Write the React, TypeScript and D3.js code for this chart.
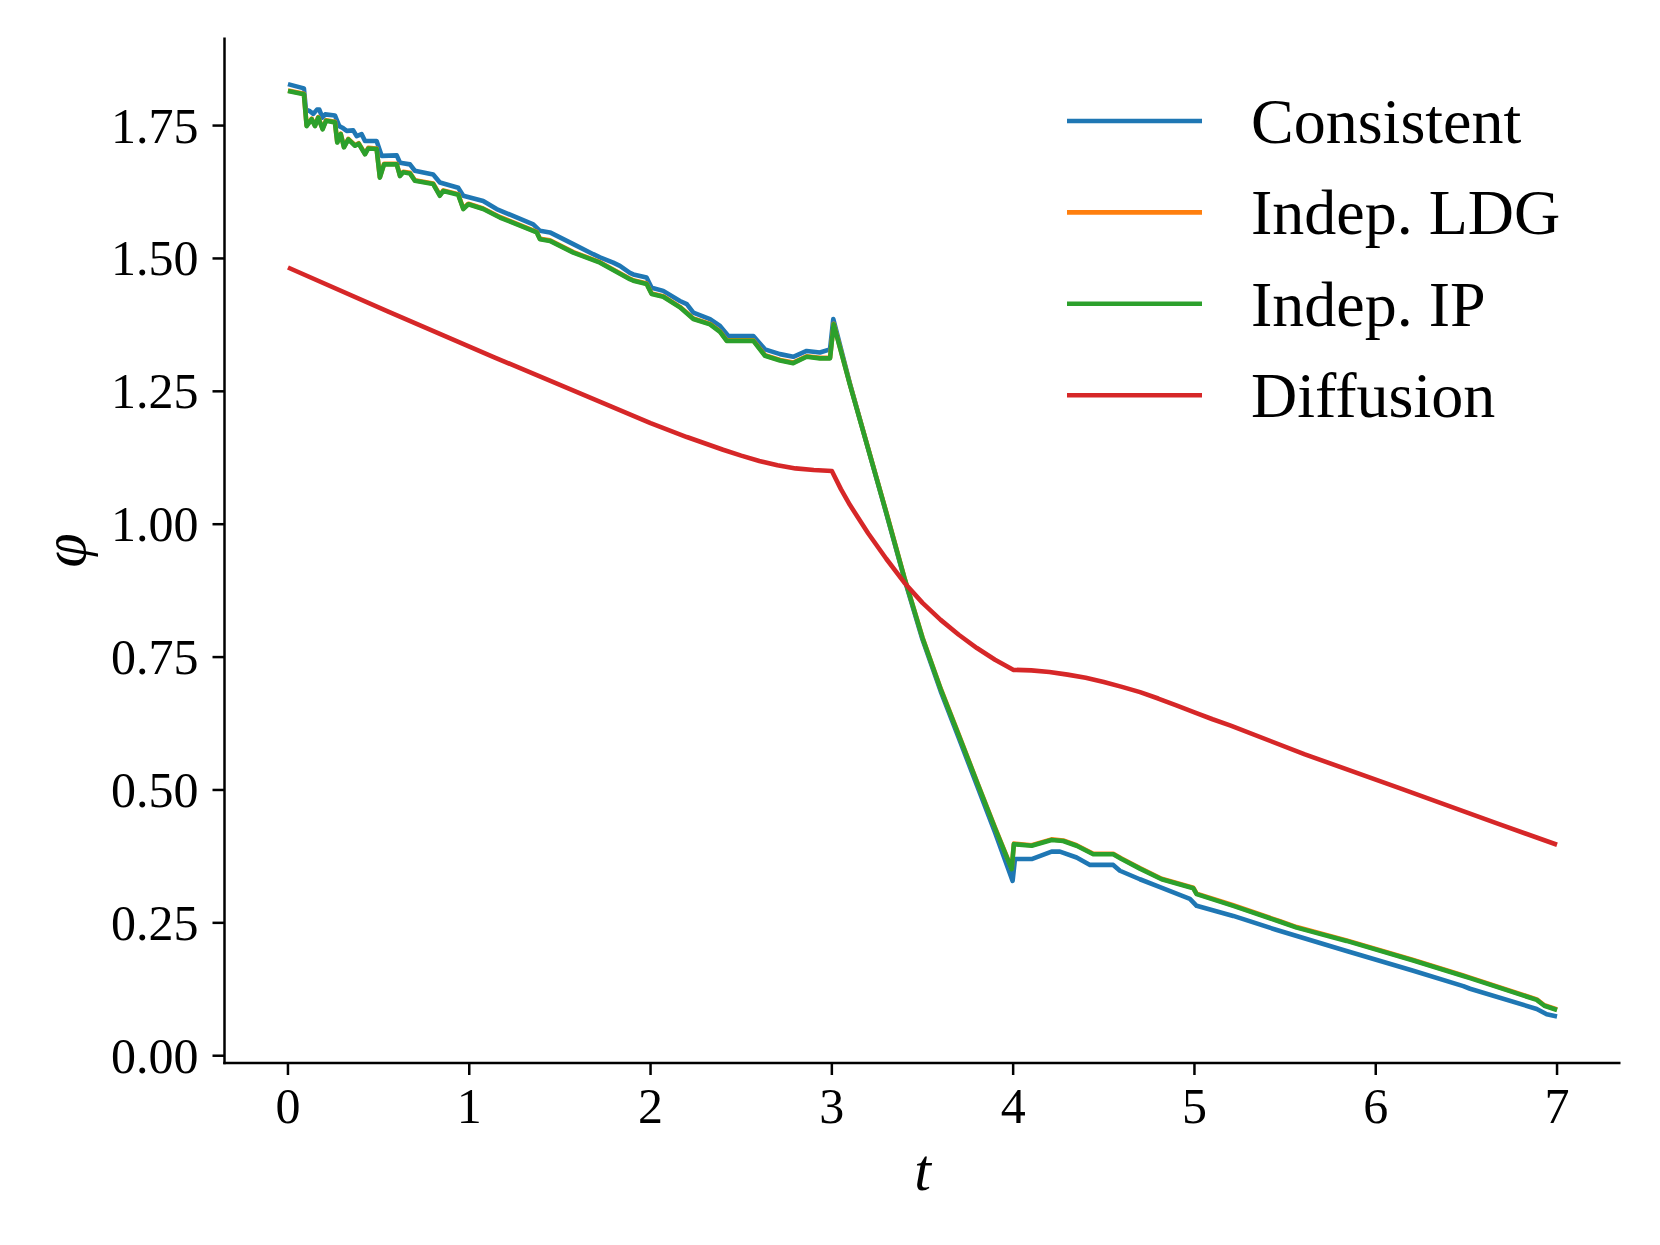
import React from "react";
import * as d3 from "d3";

// ---- data ----
const consistentT = [0, 0.088, 0.099, 0.121, 0.14, 0.16, 0.173, 0.19, 0.205, 0.259, 0.283, 0.3, 0.324, 0.36, 0.379, 0.406, 0.425, 0.489, 0.517, 0.6, 0.618, 0.673, 0.7, 0.801, 0.838, 0.939, 0.967, 1.077, 1.151, 1.353, 1.39, 1.445, 1.574, 1.684, 1.721, 1.794, 1.831, 1.886, 1.905, 1.978, 2.006, 2.07, 2.162, 2.2, 2.236, 2.328, 2.383, 2.429, 2.567, 2.631, 2.714, 2.787, 2.861, 2.934, 2.99, 3.008, 3.1, 3.2, 3.3, 3.4, 3.5, 3.6, 3.7, 3.8, 3.9, 3.997, 4.01, 4.102, 4.212, 4.258, 4.35, 4.424, 4.552, 4.589, 4.699, 4.81, 4.975, 5.012, 5.214, 5.45, 5.839, 6.207, 6.483, 6.52, 6.888, 6.943, 7.0];
const consistentPhi = [1.828, 1.82, 1.78, 1.777, 1.772, 1.78, 1.78, 1.765, 1.771, 1.769, 1.749, 1.746, 1.74, 1.741, 1.73, 1.734, 1.721, 1.721, 1.693, 1.694, 1.68, 1.677, 1.665, 1.658, 1.643, 1.633, 1.618, 1.608, 1.593, 1.564, 1.552, 1.549, 1.527, 1.508, 1.502, 1.492, 1.486, 1.473, 1.47, 1.464, 1.445, 1.439, 1.42, 1.414, 1.398, 1.386, 1.373, 1.354, 1.354, 1.329, 1.32, 1.315, 1.326, 1.323, 1.329, 1.386, 1.264, 1.142, 1.021, 0.897, 0.783, 0.686, 0.598, 0.509, 0.42, 0.329, 0.37, 0.37, 0.384, 0.384, 0.373, 0.359, 0.359, 0.348, 0.332, 0.317, 0.295, 0.282, 0.263, 0.237, 0.197, 0.16, 0.131, 0.126, 0.088, 0.078, 0.074];

const ipT = [0, 0.088, 0.103, 0.131, 0.149, 0.167, 0.191, 0.21, 0.259, 0.272, 0.291, 0.309, 0.333, 0.37, 0.39, 0.425, 0.443, 0.489, 0.507, 0.53, 0.6, 0.618, 0.636, 0.673, 0.7, 0.801, 0.838, 0.857, 0.939, 0.967, 0.995, 1.077, 1.169, 1.372, 1.39, 1.445, 1.574, 1.721, 1.886, 1.905, 1.978, 2.006, 2.07, 2.162, 2.236, 2.328, 2.383, 2.42, 2.567, 2.631, 2.714, 2.787, 2.861, 2.934, 2.99, 3.01, 3.1, 3.2, 3.3, 3.4, 3.5, 3.6, 3.7, 3.8, 3.9, 3.992, 4.004, 4.102, 4.212, 4.276, 4.35, 4.442, 4.552, 4.598, 4.699, 4.819, 4.994, 5.012, 5.214, 5.472, 5.564, 5.839, 6.207, 6.483, 6.52, 6.888, 6.93, 7.0];
const ipPhi = [1.815, 1.809, 1.749, 1.762, 1.749, 1.765, 1.743, 1.759, 1.756, 1.718, 1.734, 1.709, 1.724, 1.712, 1.716, 1.696, 1.707, 1.706, 1.652, 1.677, 1.677, 1.655, 1.662, 1.66, 1.646, 1.64, 1.618, 1.627, 1.62, 1.593, 1.602, 1.593, 1.577, 1.549, 1.536, 1.533, 1.511, 1.492, 1.461, 1.458, 1.452, 1.433, 1.428, 1.408, 1.386, 1.376, 1.362, 1.345, 1.345, 1.317, 1.308, 1.303, 1.315, 1.312, 1.312, 1.376, 1.262, 1.142, 1.022, 0.899, 0.786, 0.69, 0.603, 0.515, 0.428, 0.351, 0.398, 0.395, 0.406, 0.404, 0.395, 0.379, 0.379, 0.37, 0.352, 0.332, 0.315, 0.304, 0.282, 0.252, 0.241, 0.216, 0.179, 0.15, 0.146, 0.105, 0.094, 0.086];

// Indep. LDG lies under Indep. IP in the reference
const ldgT = [0, 0.088, 0.103, 0.131, 0.149, 0.167, 0.191, 0.21, 0.259, 0.272, 0.291, 0.309, 0.333, 0.37, 0.39, 0.425, 0.443, 0.489, 0.507, 0.53, 0.6, 0.618, 0.636, 0.673, 0.7, 0.801, 0.838, 0.857, 0.939, 0.967, 0.995, 1.077, 1.169, 1.372, 1.39, 1.445, 1.574, 1.721, 1.886, 1.905, 1.978, 2.006, 2.07, 2.162, 2.236, 2.328, 2.383, 2.42, 2.567, 2.631, 2.714, 2.787, 2.861, 2.934, 2.99, 3.01, 3.1, 3.2, 3.3, 3.4, 3.5, 3.6, 3.7, 3.8, 3.9, 3.992, 4.004, 4.102, 4.212, 4.276, 4.35, 4.442, 4.552, 4.598, 4.699, 4.819, 4.994, 5.012, 5.214, 5.472, 5.564, 5.839, 6.207, 6.483, 6.52, 6.888, 6.93, 7.0];
const ldgPhi = [1.816, 1.81, 1.75, 1.763, 1.75, 1.766, 1.744, 1.76, 1.757, 1.719, 1.735, 1.71, 1.725, 1.713, 1.717, 1.697, 1.708, 1.707, 1.653, 1.678, 1.678, 1.656, 1.663, 1.661, 1.647, 1.641, 1.619, 1.628, 1.621, 1.594, 1.603, 1.594, 1.578, 1.55, 1.537, 1.534, 1.512, 1.493, 1.462, 1.459, 1.453, 1.434, 1.429, 1.409, 1.387, 1.377, 1.363, 1.346, 1.346, 1.318, 1.309, 1.304, 1.316, 1.313, 1.313, 1.377, 1.263, 1.143, 1.023, 0.9, 0.787, 0.691, 0.604, 0.516, 0.429, 0.352, 0.399, 0.396, 0.407, 0.405, 0.396, 0.38, 0.38, 0.371, 0.353, 0.333, 0.316, 0.305, 0.283, 0.253, 0.242, 0.217, 0.18, 0.151, 0.147, 0.106, 0.095, 0.087];

const diffusionT = [0, 0.547, 1.138, 1.729, 2.0, 2.2, 2.4, 2.5, 2.6, 2.7, 2.8, 2.9, 3.0, 3.05, 3.1, 3.2, 3.3, 3.4, 3.5, 3.6, 3.7, 3.8, 3.9, 4.0, 4.1, 4.2, 4.3, 4.4, 4.5, 4.6, 4.7, 4.8, 4.9, 5.0, 5.1, 5.2, 5.609, 6.135, 6.661, 7.0];
const diffusionPhi = [1.483, 1.401, 1.314, 1.229, 1.19, 1.164, 1.14, 1.129, 1.119, 1.111, 1.105, 1.102, 1.1, 1.066, 1.036, 0.983, 0.935, 0.89, 0.852, 0.82, 0.792, 0.767, 0.745, 0.726, 0.725, 0.722, 0.717, 0.711, 0.703, 0.694, 0.684, 0.672, 0.659, 0.646, 0.633, 0.621, 0.567, 0.503, 0.438, 0.397];

const seriesNames = ["Consistent", "Indep. LDG", "Indep. IP", "Diffusion"];
const seriesColors = ["#1f77b4", "#ff7f0e", "#2ca02c", "#d62728"];
const xTicks = [0, 1, 2, 3, 4, 5, 6, 7];
const yTicks = [0, 0.25, 0.5, 0.75, 1.0, 1.25, 1.5, 1.75];

const W = 1660;
const H = 1245;
const FONT = "'Liberation Serif', 'Times New Roman', serif";

export default function App() {
  const x = d3.scaleLinear().domain([-0.35, 7.35]).range([224.5, 1620.5]);
  const y = d3.scaleLinear().domain([-0.0137, 1.9157]).range([1063, 37.5]);

  const series = [
    { t: consistentT, v: consistentPhi },
    { t: ldgT, v: ldgPhi },
    { t: ipT, v: ipPhi },
    { t: diffusionT, v: diffusionPhi },
  ];

  const line = d3
    .line<[number, number]>()
    .x((d) => x(d[0]))
    .y((d) => y(d[1]));

  const [x0, x1] = x.range();
  const [y0, y1] = y.range();

  return (
    <svg
      width={W}
      height={H}
      style={{ position: "absolute", left: 0, top: 0, background: "#fff" }}
      fontFamily={FONT}
    >
      <rect x={0} y={0} width={W} height={H} fill="#fff" />
      {series.map((s, i) => (
        <path
          key={seriesNames[i]}
          d={line(s.t.map((t, k) => [t, s.v[k]] as [number, number])) || ""}
          fill="none"
          stroke={seriesColors[i]}
          strokeWidth={4.6}
          strokeLinejoin="round"
          strokeLinecap="butt"
        />
      ))}

      {/* spines */}
      <line x1={x0} x2={x0} y1={y0 + 1.25} y2={y1} stroke="#000" strokeWidth={2.5} />
      <line x1={x0 - 1.25} x2={x1} y1={y0} y2={y0} stroke="#000" strokeWidth={2.5} />

      {/* y ticks */}
      {yTicks.map((v) => (
        <g key={"y" + v}>
          <line x1={x0 - 12} x2={x0} y1={y(v)} y2={y(v)} stroke="#000" strokeWidth={2.5} />
          <text
            x={x0 - 26}
            y={y(v)}
            textAnchor="end"
            dominantBaseline="central"
            fontSize={50}
            fill="#000"
          >
            {v.toFixed(2)}
          </text>
        </g>
      ))}

      {/* x ticks */}
      {xTicks.map((v) => (
        <g key={"x" + v}>
          <line x1={x(v)} x2={x(v)} y1={y0} y2={y0 + 12} stroke="#000" strokeWidth={2.5} />
          <text x={x(v)} y={y0 + 60} textAnchor="middle" fontSize={50} fill="#000">
            {String(v)}
          </text>
        </g>
      ))}

      {/* axis labels */}
      <text
        x={(x0 + x1) / 2}
        y={1190}
        textAnchor="middle"
        fontSize={60}
        fontStyle="italic"
        fill="#000"
      >
        t
      </text>
      <text
        transform={`translate(85, ${(y0 + y1) / 2}) rotate(-90)`}
        textAnchor="middle"
        fontSize={62}
        fontStyle="italic"
        fill="#000"
      >
        φ
      </text>

      {/* legend */}
      {seriesNames.map((name, i) => {
        const ly = 121 + i * 91.4;
        return (
          <g key={"leg" + name}>
            <line x1={1067} x2={1202} y1={ly} y2={ly} stroke={seriesColors[i]} strokeWidth={4.6} />
            <text x={1251} y={ly + 22} fontSize={64} fill="#000">
              {name}
            </text>
          </g>
        );
      })}
    </svg>
  );
}
